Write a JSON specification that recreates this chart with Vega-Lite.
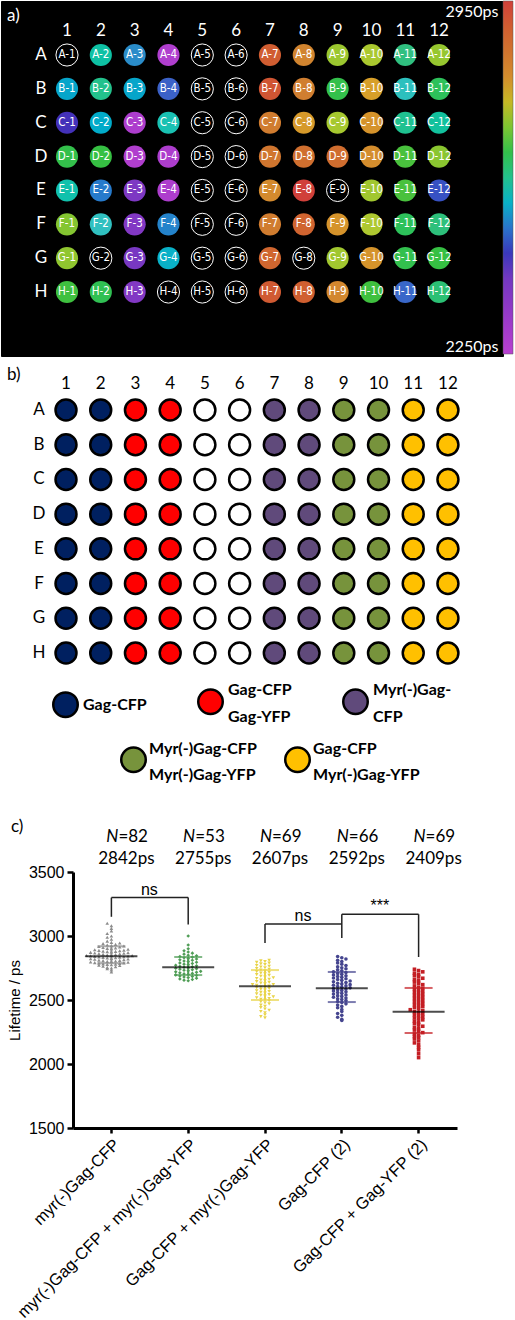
{
"$schema": "https://vega.github.io/schema/vega-lite/v6.json",
"padding": 0,
"background": "white",
"spacing": 0,
"bounds": "flush",
"datasets": {
"plate": [
{"well":"A-1","row":"A","rowIndex":1,"col":1,"construct":"Gag-CFP","lifetime":null},
{"well":"A-2","row":"A","rowIndex":1,"col":2,"construct":"Gag-CFP","lifetime":2585},
{"well":"A-3","row":"A","rowIndex":1,"col":3,"construct":"Gag-CFP + Gag-YFP","lifetime":2520},
{"well":"A-4","row":"A","rowIndex":1,"col":4,"construct":"Gag-CFP + Gag-YFP","lifetime":2270},
{"well":"A-5","row":"A","rowIndex":1,"col":5,"construct":"empty","lifetime":null},
{"well":"A-6","row":"A","rowIndex":1,"col":6,"construct":"empty","lifetime":null},
{"well":"A-7","row":"A","rowIndex":1,"col":7,"construct":"Myr(-)Gag-CFP","lifetime":2900},
{"well":"A-8","row":"A","rowIndex":1,"col":8,"construct":"Myr(-)Gag-CFP","lifetime":2815},
{"well":"A-9","row":"A","rowIndex":1,"col":9,"construct":"Myr(-)Gag-CFP + Myr(-)Gag-YFP","lifetime":2725},
{"well":"A-10","row":"A","rowIndex":1,"col":10,"construct":"Myr(-)Gag-CFP + Myr(-)Gag-YFP","lifetime":2738},
{"well":"A-11","row":"A","rowIndex":1,"col":11,"construct":"Gag-CFP + Myr(-)Gag-YFP","lifetime":2607},
{"well":"A-12","row":"A","rowIndex":1,"col":12,"construct":"Gag-CFP + Myr(-)Gag-YFP","lifetime":2720},
{"well":"B-1","row":"B","rowIndex":2,"col":1,"construct":"Gag-CFP","lifetime":2540},
{"well":"B-2","row":"B","rowIndex":2,"col":2,"construct":"Gag-CFP","lifetime":2600},
{"well":"B-3","row":"B","rowIndex":2,"col":3,"construct":"Gag-CFP + Gag-YFP","lifetime":2540},
{"well":"B-4","row":"B","rowIndex":2,"col":4,"construct":"Gag-CFP + Gag-YFP","lifetime":2485},
{"well":"B-5","row":"B","rowIndex":2,"col":5,"construct":"empty","lifetime":null},
{"well":"B-6","row":"B","rowIndex":2,"col":6,"construct":"empty","lifetime":null},
{"well":"B-7","row":"B","rowIndex":2,"col":7,"construct":"Myr(-)Gag-CFP","lifetime":2915},
{"well":"B-8","row":"B","rowIndex":2,"col":8,"construct":"Myr(-)Gag-CFP","lifetime":2825},
{"well":"B-9","row":"B","rowIndex":2,"col":9,"construct":"Myr(-)Gag-CFP + Myr(-)Gag-YFP","lifetime":2650},
{"well":"B-10","row":"B","rowIndex":2,"col":10,"construct":"Myr(-)Gag-CFP + Myr(-)Gag-YFP","lifetime":2770},
{"well":"B-11","row":"B","rowIndex":2,"col":11,"construct":"Gag-CFP + Myr(-)Gag-YFP","lifetime":2565},
{"well":"B-12","row":"B","rowIndex":2,"col":12,"construct":"Gag-CFP + Myr(-)Gag-YFP","lifetime":2640},
{"well":"C-1","row":"C","rowIndex":3,"col":1,"construct":"Gag-CFP","lifetime":2440},
{"well":"C-2","row":"C","rowIndex":3,"col":2,"construct":"Gag-CFP","lifetime":2545},
{"well":"C-3","row":"C","rowIndex":3,"col":3,"construct":"Gag-CFP + Gag-YFP","lifetime":2275},
{"well":"C-4","row":"C","rowIndex":3,"col":4,"construct":"Gag-CFP + Gag-YFP","lifetime":2575},
{"well":"C-5","row":"C","rowIndex":3,"col":5,"construct":"empty","lifetime":null},
{"well":"C-6","row":"C","rowIndex":3,"col":6,"construct":"empty","lifetime":null},
{"well":"C-7","row":"C","rowIndex":3,"col":7,"construct":"Myr(-)Gag-CFP","lifetime":2830},
{"well":"C-8","row":"C","rowIndex":3,"col":8,"construct":"Myr(-)Gag-CFP","lifetime":2780},
{"well":"C-9","row":"C","rowIndex":3,"col":9,"construct":"Myr(-)Gag-CFP + Myr(-)Gag-YFP","lifetime":2735},
{"well":"C-10","row":"C","rowIndex":3,"col":10,"construct":"Myr(-)Gag-CFP + Myr(-)Gag-YFP","lifetime":2790},
{"well":"C-11","row":"C","rowIndex":3,"col":11,"construct":"Gag-CFP + Myr(-)Gag-YFP","lifetime":2598},
{"well":"C-12","row":"C","rowIndex":3,"col":12,"construct":"Gag-CFP + Myr(-)Gag-YFP","lifetime":2590},
{"well":"D-1","row":"D","rowIndex":4,"col":1,"construct":"Gag-CFP","lifetime":2650},
{"well":"D-2","row":"D","rowIndex":4,"col":2,"construct":"Gag-CFP","lifetime":2655},
{"well":"D-3","row":"D","rowIndex":4,"col":3,"construct":"Gag-CFP + Gag-YFP","lifetime":2270},
{"well":"D-4","row":"D","rowIndex":4,"col":4,"construct":"Gag-CFP + Gag-YFP","lifetime":2275},
{"well":"D-5","row":"D","rowIndex":4,"col":5,"construct":"empty","lifetime":null},
{"well":"D-6","row":"D","rowIndex":4,"col":6,"construct":"empty","lifetime":null},
{"well":"D-7","row":"D","rowIndex":4,"col":7,"construct":"Myr(-)Gag-CFP","lifetime":2845},
{"well":"D-8","row":"D","rowIndex":4,"col":8,"construct":"Myr(-)Gag-CFP","lifetime":2860},
{"well":"D-9","row":"D","rowIndex":4,"col":9,"construct":"Myr(-)Gag-CFP + Myr(-)Gag-YFP","lifetime":2865},
{"well":"D-10","row":"D","rowIndex":4,"col":10,"construct":"Myr(-)Gag-CFP + Myr(-)Gag-YFP","lifetime":2800},
{"well":"D-11","row":"D","rowIndex":4,"col":11,"construct":"Gag-CFP + Myr(-)Gag-YFP","lifetime":2665},
{"well":"D-12","row":"D","rowIndex":4,"col":12,"construct":"Gag-CFP + Myr(-)Gag-YFP","lifetime":2710},
{"well":"E-1","row":"E","rowIndex":5,"col":1,"construct":"Gag-CFP","lifetime":2580},
{"well":"E-2","row":"E","rowIndex":5,"col":2,"construct":"Gag-CFP","lifetime":2505},
{"well":"E-3","row":"E","rowIndex":5,"col":3,"construct":"Gag-CFP + Gag-YFP","lifetime":2380},
{"well":"E-4","row":"E","rowIndex":5,"col":4,"construct":"Gag-CFP + Gag-YFP","lifetime":2275},
{"well":"E-5","row":"E","rowIndex":5,"col":5,"construct":"empty","lifetime":null},
{"well":"E-6","row":"E","rowIndex":5,"col":6,"construct":"empty","lifetime":null},
{"well":"E-7","row":"E","rowIndex":5,"col":7,"construct":"Myr(-)Gag-CFP","lifetime":2805},
{"well":"E-8","row":"E","rowIndex":5,"col":8,"construct":"Myr(-)Gag-CFP","lifetime":2950},
{"well":"E-9","row":"E","rowIndex":5,"col":9,"construct":"Myr(-)Gag-CFP + Myr(-)Gag-YFP","lifetime":null},
{"well":"E-10","row":"E","rowIndex":5,"col":10,"construct":"Myr(-)Gag-CFP + Myr(-)Gag-YFP","lifetime":2730},
{"well":"E-11","row":"E","rowIndex":5,"col":11,"construct":"Gag-CFP + Myr(-)Gag-YFP","lifetime":2665},
{"well":"E-12","row":"E","rowIndex":5,"col":12,"construct":"Gag-CFP + Myr(-)Gag-YFP","lifetime":2470},
{"well":"F-1","row":"F","rowIndex":6,"col":1,"construct":"Gag-CFP","lifetime":2705},
{"well":"F-2","row":"F","rowIndex":6,"col":2,"construct":"Gag-CFP","lifetime":2563},
{"well":"F-3","row":"F","rowIndex":6,"col":3,"construct":"Gag-CFP + Gag-YFP","lifetime":2370},
{"well":"F-4","row":"F","rowIndex":6,"col":4,"construct":"Gag-CFP + Gag-YFP","lifetime":2512},
{"well":"F-5","row":"F","rowIndex":6,"col":5,"construct":"empty","lifetime":null},
{"well":"F-6","row":"F","rowIndex":6,"col":6,"construct":"empty","lifetime":null},
{"well":"F-7","row":"F","rowIndex":6,"col":7,"construct":"Myr(-)Gag-CFP","lifetime":2830},
{"well":"F-8","row":"F","rowIndex":6,"col":8,"construct":"Myr(-)Gag-CFP","lifetime":2885},
{"well":"F-9","row":"F","rowIndex":6,"col":9,"construct":"Myr(-)Gag-CFP + Myr(-)Gag-YFP","lifetime":2790},
{"well":"F-10","row":"F","rowIndex":6,"col":10,"construct":"Myr(-)Gag-CFP + Myr(-)Gag-YFP","lifetime":2742},
{"well":"F-11","row":"F","rowIndex":6,"col":11,"construct":"Gag-CFP + Myr(-)Gag-YFP","lifetime":2640},
{"well":"F-12","row":"F","rowIndex":6,"col":12,"construct":"Gag-CFP + Myr(-)Gag-YFP","lifetime":2612},
{"well":"G-1","row":"G","rowIndex":7,"col":1,"construct":"Gag-CFP","lifetime":2715},
{"well":"G-2","row":"G","rowIndex":7,"col":2,"construct":"Gag-CFP","lifetime":null},
{"well":"G-3","row":"G","rowIndex":7,"col":3,"construct":"Gag-CFP + Gag-YFP","lifetime":2390},
{"well":"G-4","row":"G","rowIndex":7,"col":4,"construct":"Gag-CFP + Gag-YFP","lifetime":2550},
{"well":"G-5","row":"G","rowIndex":7,"col":5,"construct":"empty","lifetime":null},
{"well":"G-6","row":"G","rowIndex":7,"col":6,"construct":"empty","lifetime":null},
{"well":"G-7","row":"G","rowIndex":7,"col":7,"construct":"Myr(-)Gag-CFP","lifetime":2880},
{"well":"G-8","row":"G","rowIndex":7,"col":8,"construct":"Myr(-)Gag-CFP","lifetime":null},
{"well":"G-9","row":"G","rowIndex":7,"col":9,"construct":"Myr(-)Gag-CFP + Myr(-)Gag-YFP","lifetime":2730},
{"well":"G-10","row":"G","rowIndex":7,"col":10,"construct":"Myr(-)Gag-CFP + Myr(-)Gag-YFP","lifetime":2790},
{"well":"G-11","row":"G","rowIndex":7,"col":11,"construct":"Gag-CFP + Myr(-)Gag-YFP","lifetime":2648},
{"well":"G-12","row":"G","rowIndex":7,"col":12,"construct":"Gag-CFP + Myr(-)Gag-YFP","lifetime":2655},
{"well":"H-1","row":"H","rowIndex":8,"col":1,"construct":"Gag-CFP","lifetime":2660},
{"well":"H-2","row":"H","rowIndex":8,"col":2,"construct":"Gag-CFP","lifetime":2645},
{"well":"H-3","row":"H","rowIndex":8,"col":3,"construct":"Gag-CFP + Gag-YFP","lifetime":2370},
{"well":"H-4","row":"H","rowIndex":8,"col":4,"construct":"Gag-CFP + Gag-YFP","lifetime":null},
{"well":"H-5","row":"H","rowIndex":8,"col":5,"construct":"empty","lifetime":null},
{"well":"H-6","row":"H","rowIndex":8,"col":6,"construct":"empty","lifetime":null},
{"well":"H-7","row":"H","rowIndex":8,"col":7,"construct":"Myr(-)Gag-CFP","lifetime":2905},
{"well":"H-8","row":"H","rowIndex":8,"col":8,"construct":"Myr(-)Gag-CFP","lifetime":2895},
{"well":"H-9","row":"H","rowIndex":8,"col":9,"construct":"Myr(-)Gag-CFP + Myr(-)Gag-YFP","lifetime":2810},
{"well":"H-10","row":"H","rowIndex":8,"col":10,"construct":"Myr(-)Gag-CFP + Myr(-)Gag-YFP","lifetime":2660},
{"well":"H-11","row":"H","rowIndex":8,"col":11,"construct":"Gag-CFP + Myr(-)Gag-YFP","lifetime":2490},
{"well":"H-12","row":"H","rowIndex":8,"col":12,"construct":"Gag-CFP + Myr(-)Gag-YFP","lifetime":2618}
],
"points": [
{"group":"myr(-)Gag-CFP","lifetime":2720},{"group":"myr(-)Gag-CFP","lifetime":2735},{"group":"myr(-)Gag-CFP","lifetime":2745},{"group":"myr(-)Gag-CFP","lifetime":2750},{"group":"myr(-)Gag-CFP","lifetime":2755},{"group":"myr(-)Gag-CFP","lifetime":2760},{"group":"myr(-)Gag-CFP","lifetime":2765},{"group":"myr(-)Gag-CFP","lifetime":2770},{"group":"myr(-)Gag-CFP","lifetime":2772},{"group":"myr(-)Gag-CFP","lifetime":2775},
{"group":"myr(-)Gag-CFP","lifetime":2778},{"group":"myr(-)Gag-CFP","lifetime":2780},{"group":"myr(-)Gag-CFP","lifetime":2782},{"group":"myr(-)Gag-CFP","lifetime":2785},{"group":"myr(-)Gag-CFP","lifetime":2787},{"group":"myr(-)Gag-CFP","lifetime":2790},{"group":"myr(-)Gag-CFP","lifetime":2792},{"group":"myr(-)Gag-CFP","lifetime":2795},{"group":"myr(-)Gag-CFP","lifetime":2797},{"group":"myr(-)Gag-CFP","lifetime":2800},
{"group":"myr(-)Gag-CFP","lifetime":2802},{"group":"myr(-)Gag-CFP","lifetime":2805},{"group":"myr(-)Gag-CFP","lifetime":2808},{"group":"myr(-)Gag-CFP","lifetime":2810},{"group":"myr(-)Gag-CFP","lifetime":2812},{"group":"myr(-)Gag-CFP","lifetime":2815},{"group":"myr(-)Gag-CFP","lifetime":2818},{"group":"myr(-)Gag-CFP","lifetime":2820},{"group":"myr(-)Gag-CFP","lifetime":2822},{"group":"myr(-)Gag-CFP","lifetime":2825},
{"group":"myr(-)Gag-CFP","lifetime":2828},{"group":"myr(-)Gag-CFP","lifetime":2830},{"group":"myr(-)Gag-CFP","lifetime":2832},{"group":"myr(-)Gag-CFP","lifetime":2835},{"group":"myr(-)Gag-CFP","lifetime":2838},{"group":"myr(-)Gag-CFP","lifetime":2840},{"group":"myr(-)Gag-CFP","lifetime":2842},{"group":"myr(-)Gag-CFP","lifetime":2845},{"group":"myr(-)Gag-CFP","lifetime":2847},{"group":"myr(-)Gag-CFP","lifetime":2850},
{"group":"myr(-)Gag-CFP","lifetime":2852},{"group":"myr(-)Gag-CFP","lifetime":2855},{"group":"myr(-)Gag-CFP","lifetime":2857},{"group":"myr(-)Gag-CFP","lifetime":2860},{"group":"myr(-)Gag-CFP","lifetime":2862},{"group":"myr(-)Gag-CFP","lifetime":2865},{"group":"myr(-)Gag-CFP","lifetime":2867},{"group":"myr(-)Gag-CFP","lifetime":2870},{"group":"myr(-)Gag-CFP","lifetime":2872},{"group":"myr(-)Gag-CFP","lifetime":2875},
{"group":"myr(-)Gag-CFP","lifetime":2878},{"group":"myr(-)Gag-CFP","lifetime":2880},{"group":"myr(-)Gag-CFP","lifetime":2882},{"group":"myr(-)Gag-CFP","lifetime":2885},{"group":"myr(-)Gag-CFP","lifetime":2888},{"group":"myr(-)Gag-CFP","lifetime":2890},{"group":"myr(-)Gag-CFP","lifetime":2893},{"group":"myr(-)Gag-CFP","lifetime":2896},{"group":"myr(-)Gag-CFP","lifetime":2900},{"group":"myr(-)Gag-CFP","lifetime":2903},
{"group":"myr(-)Gag-CFP","lifetime":2906},{"group":"myr(-)Gag-CFP","lifetime":2910},{"group":"myr(-)Gag-CFP","lifetime":2914},{"group":"myr(-)Gag-CFP","lifetime":2918},{"group":"myr(-)Gag-CFP","lifetime":2922},{"group":"myr(-)Gag-CFP","lifetime":2926},{"group":"myr(-)Gag-CFP","lifetime":2930},{"group":"myr(-)Gag-CFP","lifetime":2935},{"group":"myr(-)Gag-CFP","lifetime":2940},{"group":"myr(-)Gag-CFP","lifetime":2945},
{"group":"myr(-)Gag-CFP","lifetime":2950},{"group":"myr(-)Gag-CFP","lifetime":2960},{"group":"myr(-)Gag-CFP","lifetime":2975},{"group":"myr(-)Gag-CFP","lifetime":2990},{"group":"myr(-)Gag-CFP","lifetime":3000},{"group":"myr(-)Gag-CFP","lifetime":3020},{"group":"myr(-)Gag-CFP","lifetime":3040},{"group":"myr(-)Gag-CFP","lifetime":3060},{"group":"myr(-)Gag-CFP","lifetime":3080},{"group":"myr(-)Gag-CFP","lifetime":3100},
{"group":"myr(-)Gag-CFP","lifetime":2848},{"group":"myr(-)Gag-CFP","lifetime":2836},
{"group":"myr(-)Gag-CFP + myr(-)Gag-YFP","lifetime":2650},{"group":"myr(-)Gag-CFP + myr(-)Gag-YFP","lifetime":2655},{"group":"myr(-)Gag-CFP + myr(-)Gag-YFP","lifetime":2660},{"group":"myr(-)Gag-CFP + myr(-)Gag-YFP","lifetime":2665},{"group":"myr(-)Gag-CFP + myr(-)Gag-YFP","lifetime":2670},{"group":"myr(-)Gag-CFP + myr(-)Gag-YFP","lifetime":2675},{"group":"myr(-)Gag-CFP + myr(-)Gag-YFP","lifetime":2680},{"group":"myr(-)Gag-CFP + myr(-)Gag-YFP","lifetime":2684},{"group":"myr(-)Gag-CFP + myr(-)Gag-YFP","lifetime":2688},{"group":"myr(-)Gag-CFP + myr(-)Gag-YFP","lifetime":2692},
{"group":"myr(-)Gag-CFP + myr(-)Gag-YFP","lifetime":2696},{"group":"myr(-)Gag-CFP + myr(-)Gag-YFP","lifetime":2700},{"group":"myr(-)Gag-CFP + myr(-)Gag-YFP","lifetime":2704},{"group":"myr(-)Gag-CFP + myr(-)Gag-YFP","lifetime":2708},{"group":"myr(-)Gag-CFP + myr(-)Gag-YFP","lifetime":2712},{"group":"myr(-)Gag-CFP + myr(-)Gag-YFP","lifetime":2716},{"group":"myr(-)Gag-CFP + myr(-)Gag-YFP","lifetime":2720},{"group":"myr(-)Gag-CFP + myr(-)Gag-YFP","lifetime":2724},{"group":"myr(-)Gag-CFP + myr(-)Gag-YFP","lifetime":2728},{"group":"myr(-)Gag-CFP + myr(-)Gag-YFP","lifetime":2732},
{"group":"myr(-)Gag-CFP + myr(-)Gag-YFP","lifetime":2736},{"group":"myr(-)Gag-CFP + myr(-)Gag-YFP","lifetime":2740},{"group":"myr(-)Gag-CFP + myr(-)Gag-YFP","lifetime":2744},{"group":"myr(-)Gag-CFP + myr(-)Gag-YFP","lifetime":2748},{"group":"myr(-)Gag-CFP + myr(-)Gag-YFP","lifetime":2752},{"group":"myr(-)Gag-CFP + myr(-)Gag-YFP","lifetime":2756},{"group":"myr(-)Gag-CFP + myr(-)Gag-YFP","lifetime":2760},{"group":"myr(-)Gag-CFP + myr(-)Gag-YFP","lifetime":2764},{"group":"myr(-)Gag-CFP + myr(-)Gag-YFP","lifetime":2768},{"group":"myr(-)Gag-CFP + myr(-)Gag-YFP","lifetime":2772},
{"group":"myr(-)Gag-CFP + myr(-)Gag-YFP","lifetime":2776},{"group":"myr(-)Gag-CFP + myr(-)Gag-YFP","lifetime":2780},{"group":"myr(-)Gag-CFP + myr(-)Gag-YFP","lifetime":2785},{"group":"myr(-)Gag-CFP + myr(-)Gag-YFP","lifetime":2790},{"group":"myr(-)Gag-CFP + myr(-)Gag-YFP","lifetime":2795},{"group":"myr(-)Gag-CFP + myr(-)Gag-YFP","lifetime":2800},{"group":"myr(-)Gag-CFP + myr(-)Gag-YFP","lifetime":2805},{"group":"myr(-)Gag-CFP + myr(-)Gag-YFP","lifetime":2810},{"group":"myr(-)Gag-CFP + myr(-)Gag-YFP","lifetime":2815},{"group":"myr(-)Gag-CFP + myr(-)Gag-YFP","lifetime":2820},
{"group":"myr(-)Gag-CFP + myr(-)Gag-YFP","lifetime":2825},{"group":"myr(-)Gag-CFP + myr(-)Gag-YFP","lifetime":2830},{"group":"myr(-)Gag-CFP + myr(-)Gag-YFP","lifetime":2835},{"group":"myr(-)Gag-CFP + myr(-)Gag-YFP","lifetime":2840},{"group":"myr(-)Gag-CFP + myr(-)Gag-YFP","lifetime":2845},{"group":"myr(-)Gag-CFP + myr(-)Gag-YFP","lifetime":2850},{"group":"myr(-)Gag-CFP + myr(-)Gag-YFP","lifetime":2858},{"group":"myr(-)Gag-CFP + myr(-)Gag-YFP","lifetime":2866},{"group":"myr(-)Gag-CFP + myr(-)Gag-YFP","lifetime":2875},{"group":"myr(-)Gag-CFP + myr(-)Gag-YFP","lifetime":2885},
{"group":"myr(-)Gag-CFP + myr(-)Gag-YFP","lifetime":2900},{"group":"myr(-)Gag-CFP + myr(-)Gag-YFP","lifetime":2930},{"group":"myr(-)Gag-CFP + myr(-)Gag-YFP","lifetime":3000},
{"group":"Gag-CFP + myr(-)Gag-YFP","lifetime":2360},{"group":"Gag-CFP + myr(-)Gag-YFP","lifetime":2370},{"group":"Gag-CFP + myr(-)Gag-YFP","lifetime":2385},{"group":"Gag-CFP + myr(-)Gag-YFP","lifetime":2400},{"group":"Gag-CFP + myr(-)Gag-YFP","lifetime":2410},{"group":"Gag-CFP + myr(-)Gag-YFP","lifetime":2420},{"group":"Gag-CFP + myr(-)Gag-YFP","lifetime":2430},{"group":"Gag-CFP + myr(-)Gag-YFP","lifetime":2440},{"group":"Gag-CFP + myr(-)Gag-YFP","lifetime":2450},{"group":"Gag-CFP + myr(-)Gag-YFP","lifetime":2460},
{"group":"Gag-CFP + myr(-)Gag-YFP","lifetime":2470},{"group":"Gag-CFP + myr(-)Gag-YFP","lifetime":2478},{"group":"Gag-CFP + myr(-)Gag-YFP","lifetime":2486},{"group":"Gag-CFP + myr(-)Gag-YFP","lifetime":2494},{"group":"Gag-CFP + myr(-)Gag-YFP","lifetime":2500},{"group":"Gag-CFP + myr(-)Gag-YFP","lifetime":2506},{"group":"Gag-CFP + myr(-)Gag-YFP","lifetime":2512},{"group":"Gag-CFP + myr(-)Gag-YFP","lifetime":2518},{"group":"Gag-CFP + myr(-)Gag-YFP","lifetime":2524},{"group":"Gag-CFP + myr(-)Gag-YFP","lifetime":2530},
{"group":"Gag-CFP + myr(-)Gag-YFP","lifetime":2536},{"group":"Gag-CFP + myr(-)Gag-YFP","lifetime":2542},{"group":"Gag-CFP + myr(-)Gag-YFP","lifetime":2548},{"group":"Gag-CFP + myr(-)Gag-YFP","lifetime":2554},{"group":"Gag-CFP + myr(-)Gag-YFP","lifetime":2560},{"group":"Gag-CFP + myr(-)Gag-YFP","lifetime":2566},{"group":"Gag-CFP + myr(-)Gag-YFP","lifetime":2572},{"group":"Gag-CFP + myr(-)Gag-YFP","lifetime":2578},{"group":"Gag-CFP + myr(-)Gag-YFP","lifetime":2584},{"group":"Gag-CFP + myr(-)Gag-YFP","lifetime":2590},
{"group":"Gag-CFP + myr(-)Gag-YFP","lifetime":2596},{"group":"Gag-CFP + myr(-)Gag-YFP","lifetime":2602},{"group":"Gag-CFP + myr(-)Gag-YFP","lifetime":2608},{"group":"Gag-CFP + myr(-)Gag-YFP","lifetime":2614},{"group":"Gag-CFP + myr(-)Gag-YFP","lifetime":2620},{"group":"Gag-CFP + myr(-)Gag-YFP","lifetime":2626},{"group":"Gag-CFP + myr(-)Gag-YFP","lifetime":2632},{"group":"Gag-CFP + myr(-)Gag-YFP","lifetime":2638},{"group":"Gag-CFP + myr(-)Gag-YFP","lifetime":2644},{"group":"Gag-CFP + myr(-)Gag-YFP","lifetime":2650},
{"group":"Gag-CFP + myr(-)Gag-YFP","lifetime":2656},{"group":"Gag-CFP + myr(-)Gag-YFP","lifetime":2662},{"group":"Gag-CFP + myr(-)Gag-YFP","lifetime":2668},{"group":"Gag-CFP + myr(-)Gag-YFP","lifetime":2674},{"group":"Gag-CFP + myr(-)Gag-YFP","lifetime":2680},{"group":"Gag-CFP + myr(-)Gag-YFP","lifetime":2686},{"group":"Gag-CFP + myr(-)Gag-YFP","lifetime":2692},{"group":"Gag-CFP + myr(-)Gag-YFP","lifetime":2698},{"group":"Gag-CFP + myr(-)Gag-YFP","lifetime":2704},{"group":"Gag-CFP + myr(-)Gag-YFP","lifetime":2710},
{"group":"Gag-CFP + myr(-)Gag-YFP","lifetime":2716},{"group":"Gag-CFP + myr(-)Gag-YFP","lifetime":2722},{"group":"Gag-CFP + myr(-)Gag-YFP","lifetime":2728},{"group":"Gag-CFP + myr(-)Gag-YFP","lifetime":2734},{"group":"Gag-CFP + myr(-)Gag-YFP","lifetime":2740},{"group":"Gag-CFP + myr(-)Gag-YFP","lifetime":2746},{"group":"Gag-CFP + myr(-)Gag-YFP","lifetime":2752},{"group":"Gag-CFP + myr(-)Gag-YFP","lifetime":2758},{"group":"Gag-CFP + myr(-)Gag-YFP","lifetime":2764},{"group":"Gag-CFP + myr(-)Gag-YFP","lifetime":2770},
{"group":"Gag-CFP + myr(-)Gag-YFP","lifetime":2776},{"group":"Gag-CFP + myr(-)Gag-YFP","lifetime":2782},{"group":"Gag-CFP + myr(-)Gag-YFP","lifetime":2788},{"group":"Gag-CFP + myr(-)Gag-YFP","lifetime":2794},{"group":"Gag-CFP + myr(-)Gag-YFP","lifetime":2800},{"group":"Gag-CFP + myr(-)Gag-YFP","lifetime":2806},{"group":"Gag-CFP + myr(-)Gag-YFP","lifetime":2810},{"group":"Gag-CFP + myr(-)Gag-YFP","lifetime":2620},{"group":"Gag-CFP + myr(-)Gag-YFP","lifetime":2600},
{"group":"Gag-CFP (2)","lifetime":2340},{"group":"Gag-CFP (2)","lifetime":2350},{"group":"Gag-CFP (2)","lifetime":2365},{"group":"Gag-CFP (2)","lifetime":2380},{"group":"Gag-CFP (2)","lifetime":2395},{"group":"Gag-CFP (2)","lifetime":2410},{"group":"Gag-CFP (2)","lifetime":2425},{"group":"Gag-CFP (2)","lifetime":2440},{"group":"Gag-CFP (2)","lifetime":2450},{"group":"Gag-CFP (2)","lifetime":2460},
{"group":"Gag-CFP (2)","lifetime":2470},{"group":"Gag-CFP (2)","lifetime":2480},{"group":"Gag-CFP (2)","lifetime":2488},{"group":"Gag-CFP (2)","lifetime":2496},{"group":"Gag-CFP (2)","lifetime":2504},{"group":"Gag-CFP (2)","lifetime":2510},{"group":"Gag-CFP (2)","lifetime":2516},{"group":"Gag-CFP (2)","lifetime":2522},{"group":"Gag-CFP (2)","lifetime":2528},{"group":"Gag-CFP (2)","lifetime":2534},
{"group":"Gag-CFP (2)","lifetime":2540},{"group":"Gag-CFP (2)","lifetime":2546},{"group":"Gag-CFP (2)","lifetime":2552},{"group":"Gag-CFP (2)","lifetime":2558},{"group":"Gag-CFP (2)","lifetime":2564},{"group":"Gag-CFP (2)","lifetime":2570},{"group":"Gag-CFP (2)","lifetime":2575},{"group":"Gag-CFP (2)","lifetime":2580},{"group":"Gag-CFP (2)","lifetime":2585},{"group":"Gag-CFP (2)","lifetime":2590},
{"group":"Gag-CFP (2)","lifetime":2595},{"group":"Gag-CFP (2)","lifetime":2600},{"group":"Gag-CFP (2)","lifetime":2605},{"group":"Gag-CFP (2)","lifetime":2610},{"group":"Gag-CFP (2)","lifetime":2615},{"group":"Gag-CFP (2)","lifetime":2620},{"group":"Gag-CFP (2)","lifetime":2625},{"group":"Gag-CFP (2)","lifetime":2630},{"group":"Gag-CFP (2)","lifetime":2636},{"group":"Gag-CFP (2)","lifetime":2642},
{"group":"Gag-CFP (2)","lifetime":2648},{"group":"Gag-CFP (2)","lifetime":2654},{"group":"Gag-CFP (2)","lifetime":2660},{"group":"Gag-CFP (2)","lifetime":2666},{"group":"Gag-CFP (2)","lifetime":2672},{"group":"Gag-CFP (2)","lifetime":2678},{"group":"Gag-CFP (2)","lifetime":2684},{"group":"Gag-CFP (2)","lifetime":2690},{"group":"Gag-CFP (2)","lifetime":2696},{"group":"Gag-CFP (2)","lifetime":2702},
{"group":"Gag-CFP (2)","lifetime":2708},{"group":"Gag-CFP (2)","lifetime":2714},{"group":"Gag-CFP (2)","lifetime":2720},{"group":"Gag-CFP (2)","lifetime":2728},{"group":"Gag-CFP (2)","lifetime":2736},{"group":"Gag-CFP (2)","lifetime":2744},{"group":"Gag-CFP (2)","lifetime":2752},{"group":"Gag-CFP (2)","lifetime":2760},{"group":"Gag-CFP (2)","lifetime":2770},{"group":"Gag-CFP (2)","lifetime":2780},
{"group":"Gag-CFP (2)","lifetime":2790},{"group":"Gag-CFP (2)","lifetime":2800},{"group":"Gag-CFP (2)","lifetime":2810},{"group":"Gag-CFP (2)","lifetime":2820},{"group":"Gag-CFP (2)","lifetime":2830},{"group":"Gag-CFP (2)","lifetime":2840},
{"group":"Gag-CFP + Gag-YFP (2)","lifetime":2050},{"group":"Gag-CFP + Gag-YFP (2)","lifetime":2080},{"group":"Gag-CFP + Gag-YFP (2)","lifetime":2110},{"group":"Gag-CFP + Gag-YFP (2)","lifetime":2130},{"group":"Gag-CFP + Gag-YFP (2)","lifetime":2150},{"group":"Gag-CFP + Gag-YFP (2)","lifetime":2165},{"group":"Gag-CFP + Gag-YFP (2)","lifetime":2180},{"group":"Gag-CFP + Gag-YFP (2)","lifetime":2195},{"group":"Gag-CFP + Gag-YFP (2)","lifetime":2205},{"group":"Gag-CFP + Gag-YFP (2)","lifetime":2215},
{"group":"Gag-CFP + Gag-YFP (2)","lifetime":2225},{"group":"Gag-CFP + Gag-YFP (2)","lifetime":2235},{"group":"Gag-CFP + Gag-YFP (2)","lifetime":2245},{"group":"Gag-CFP + Gag-YFP (2)","lifetime":2255},{"group":"Gag-CFP + Gag-YFP (2)","lifetime":2265},{"group":"Gag-CFP + Gag-YFP (2)","lifetime":2275},{"group":"Gag-CFP + Gag-YFP (2)","lifetime":2285},{"group":"Gag-CFP + Gag-YFP (2)","lifetime":2295},{"group":"Gag-CFP + Gag-YFP (2)","lifetime":2305},{"group":"Gag-CFP + Gag-YFP (2)","lifetime":2315},
{"group":"Gag-CFP + Gag-YFP (2)","lifetime":2325},{"group":"Gag-CFP + Gag-YFP (2)","lifetime":2335},{"group":"Gag-CFP + Gag-YFP (2)","lifetime":2345},{"group":"Gag-CFP + Gag-YFP (2)","lifetime":2352},{"group":"Gag-CFP + Gag-YFP (2)","lifetime":2360},{"group":"Gag-CFP + Gag-YFP (2)","lifetime":2368},{"group":"Gag-CFP + Gag-YFP (2)","lifetime":2376},{"group":"Gag-CFP + Gag-YFP (2)","lifetime":2384},{"group":"Gag-CFP + Gag-YFP (2)","lifetime":2392},{"group":"Gag-CFP + Gag-YFP (2)","lifetime":2400},
{"group":"Gag-CFP + Gag-YFP (2)","lifetime":2408},{"group":"Gag-CFP + Gag-YFP (2)","lifetime":2416},{"group":"Gag-CFP + Gag-YFP (2)","lifetime":2424},{"group":"Gag-CFP + Gag-YFP (2)","lifetime":2432},{"group":"Gag-CFP + Gag-YFP (2)","lifetime":2440},{"group":"Gag-CFP + Gag-YFP (2)","lifetime":2448},{"group":"Gag-CFP + Gag-YFP (2)","lifetime":2456},{"group":"Gag-CFP + Gag-YFP (2)","lifetime":2464},{"group":"Gag-CFP + Gag-YFP (2)","lifetime":2472},{"group":"Gag-CFP + Gag-YFP (2)","lifetime":2480},
{"group":"Gag-CFP + Gag-YFP (2)","lifetime":2488},{"group":"Gag-CFP + Gag-YFP (2)","lifetime":2496},{"group":"Gag-CFP + Gag-YFP (2)","lifetime":2504},{"group":"Gag-CFP + Gag-YFP (2)","lifetime":2512},{"group":"Gag-CFP + Gag-YFP (2)","lifetime":2520},{"group":"Gag-CFP + Gag-YFP (2)","lifetime":2528},{"group":"Gag-CFP + Gag-YFP (2)","lifetime":2536},{"group":"Gag-CFP + Gag-YFP (2)","lifetime":2544},{"group":"Gag-CFP + Gag-YFP (2)","lifetime":2552},{"group":"Gag-CFP + Gag-YFP (2)","lifetime":2560},
{"group":"Gag-CFP + Gag-YFP (2)","lifetime":2568},{"group":"Gag-CFP + Gag-YFP (2)","lifetime":2576},{"group":"Gag-CFP + Gag-YFP (2)","lifetime":2584},{"group":"Gag-CFP + Gag-YFP (2)","lifetime":2592},{"group":"Gag-CFP + Gag-YFP (2)","lifetime":2600},{"group":"Gag-CFP + Gag-YFP (2)","lifetime":2610},{"group":"Gag-CFP + Gag-YFP (2)","lifetime":2620},{"group":"Gag-CFP + Gag-YFP (2)","lifetime":2630},{"group":"Gag-CFP + Gag-YFP (2)","lifetime":2640},{"group":"Gag-CFP + Gag-YFP (2)","lifetime":2650},
{"group":"Gag-CFP + Gag-YFP (2)","lifetime":2660},{"group":"Gag-CFP + Gag-YFP (2)","lifetime":2670},{"group":"Gag-CFP + Gag-YFP (2)","lifetime":2680},{"group":"Gag-CFP + Gag-YFP (2)","lifetime":2690},{"group":"Gag-CFP + Gag-YFP (2)","lifetime":2700},{"group":"Gag-CFP + Gag-YFP (2)","lifetime":2710},{"group":"Gag-CFP + Gag-YFP (2)","lifetime":2720},{"group":"Gag-CFP + Gag-YFP (2)","lifetime":2730},{"group":"Gag-CFP + Gag-YFP (2)","lifetime":2740}
],
"summary": [
{"group":"myr(-)Gag-CFP","N":82,"mean":2842,"lo":2788,"hi":2920},
{"group":"myr(-)Gag-CFP + myr(-)Gag-YFP","N":53,"mean":2755,"lo":2695,"hi":2836},
{"group":"Gag-CFP + myr(-)Gag-YFP","N":69,"mean":2607,"lo":2500,"hi":2734},
{"group":"Gag-CFP (2)","N":66,"mean":2592,"lo":2484,"hi":2719},
{"group":"Gag-CFP + Gag-YFP (2)","N":69,"mean":2409,"lo":2242,"hi":2594}
],
"brackets": [
{"group":"myr(-)Gag-CFP","b":"myr(-)Gag-CFP + myr(-)Gag-YFP","y":3300,"ya":3150,"yb":3090,"label":"ns"},
{"group":"Gag-CFP + myr(-)Gag-YFP","b":"Gag-CFP (2)","y":3094,"ya":2945,"yb":2985,"label":"ns"},
{"group":"Gag-CFP (2)","b":"Gag-CFP + Gag-YFP (2)","y":3170,"ya":3094,"yb":2836,"label":"***"}
]
},
"vconcat": [
{
"width": 502,
"height": 355,
"view": {"fill": "black", "stroke": "black"},
"title": {"text": "a)", "anchor": "start", "frame": "group", "offset": -24, "dx": 6, "color": "white", "font": "Lato", "fontSize": 17, "fontWeight": "normal"},
"data": {"name": "plate"},
"encoding": {
"x": {"field": "col", "type": "quantitative", "scale": {"domain": [-0.951, 13.89], "nice": false, "zero": false}, "axis": null}
},
"layer": [
{"transform": [{"filter": "datum.lifetime != null"}],
"mark": {"type": "point", "shape": "circle", "filled": true, "size": 490, "opacity": 1, "strokeWidth": 0},
"encoding": {
"y": {"field": "rowIndex", "type": "quantitative", "scale": {"domain": [-0.595, 9.889], "nice": false, "zero": false, "reverse": true}, "axis": null},
"color": {"field": "lifetime", "type": "quantitative",
"scale": {"domain": [2250, 2325, 2405, 2444, 2488, 2524, 2563, 2607, 2657, 2744, 2756, 2821, 2894, 2950],
"range": ["#b840d0", "#9838c8", "#7038c0", "#3c30b8", "#3c64c8", "#3090c8", "#30c0c0", "#30c080", "#38c040", "#b0c830", "#d8a828", "#d08030", "#d06030", "#d0403a"]},
"legend": {"orient": "right", "offset": 0, "padding": 0, "title": null, "direction": "vertical", "gradientLength": 353, "gradientThickness": 10, "values": [2250, 2950], "labelExpr": "''", "labelOpacity": 0, "gradientStrokeColor": "#555", "gradientStrokeWidth": 0.5}}}},
{"transform": [{"filter": "datum.lifetime == null"}],
"mark": {"type": "point", "shape": "circle", "filled": false, "size": 490, "stroke": "white", "strokeWidth": 1, "opacity": 1},
"encoding": {"y": {"field": "rowIndex", "type": "quantitative", "scale": {"domain": [-0.595, 9.889], "nice": false, "zero": false, "reverse": true}, "axis": null}}},
{"mark": {"type": "text", "color": "white", "font": "Liberation Sans Narrow, DejaVu Sans Condensed, sans-serif", "fontSize": 11.5, "baseline": "middle", "align": "center"},
"encoding": {"text": {"field": "well"}, "y": {"field": "rowIndex", "type": "quantitative", "scale": {"domain": [-0.595, 9.889], "nice": false, "zero": false, "reverse": true}, "axis": null}}},
{"transform": [{"filter": "datum.rowIndex == 1"}],
"mark": {"type": "text", "color": "white", "font": "Lato", "fontSize": 17, "dy": -24, "baseline": "middle"},
"encoding": {"text": {"field": "col"}, "y": {"field": "rowIndex", "type": "quantitative", "scale": {"domain": [-0.595, 9.889], "nice": false, "zero": false, "reverse": true}, "axis": null}}},
{"transform": [{"filter": "datum.col == 1"}],
"mark": {"type": "text", "color": "white", "font": "Lato", "fontSize": 17, "dx": -26, "baseline": "middle"},
"encoding": {"text": {"field": "row"}, "y": {"field": "rowIndex", "type": "quantitative", "scale": {"domain": [-0.595, 9.889], "nice": false, "zero": false, "reverse": true}, "axis": null}}},
{"layer": [
{"transform": [{"filter": "datum.lifetime != null"}],
"mark": {"type": "tick", "opacity": 0},
"encoding": {"y": {"field": "lifetime", "type": "quantitative", "scale": {"domain": [2250, 2950], "range": [353, 2], "nice": false, "zero": false},
"axis": {"orient": "left", "offset": -497, "values": [2250, 2950], "labelExpr": "datum.value + 'ps'", "labelFlush": true, "domain": false, "ticks": false, "grid": false, "labelColor": "white", "labelFont": "Lato", "labelFontSize": 16, "labelPadding": 0, "title": null}}}}
]}
],
"resolve": {"scale": {"y": "independent"}, "axis": {"y": "independent"}}
},
{
"width": 515,
"height": 516,
"view": {"stroke": null},
"title": {"text": "b)", "anchor": "start", "frame": "group", "offset": -28, "dx": 6, "color": "black", "font": "Lato", "fontSize": 17, "fontWeight": "normal"},
"data": {"name": "plate"},
"encoding": {
"x": {"field": "col", "type": "quantitative", "scale": {"domain": [-0.872, 13.96], "nice": false, "zero": false}, "axis": null},
"y": {"field": "rowIndex", "type": "quantitative", "scale": {"domain": [-0.556, 14.31], "nice": false, "zero": false, "reverse": true}, "axis": null}
},
"layer": [
{"transform": [{"filter": "datum.col <= 8"}],
"mark": {"type": "point", "shape": "circle", "filled": true, "size": 440, "stroke": "black", "strokeWidth": 2.5, "opacity": 1},
"encoding": {"fill": {"field": "construct", "type": "nominal",
"scale": {"domain": ["Gag-CFP", "Gag-CFP + Gag-YFP", "Myr(-)Gag-CFP", "empty"], "range": ["#002060", "#ff0000", "#604a7b", "#ffffff"]},
"legend": {"orient": "none", "legendX": 51, "legendY": 332, "direction": "horizontal", "columns": 3, "title": null, "padding": 0,
"values": ["Gag-CFP", "Gag-CFP + Gag-YFP", "Myr(-)Gag-CFP"],
"symbolType": "circle", "symbolSize": 600, "symbolStrokeColor": "black", "symbolStrokeWidth": 2.5, "symbolOpacity": 1,
"labelFont": "Lato", "labelFontSize": 16, "labelFontWeight": "bold", "labelColor": "black", "labelLimit": 0, "labelOffset": 4,
"columnPadding": 31, "gridAlign": "all",
"labelExpr": "datum.label == 'Myr(-)Gag-CFP' ? ['Myr(-)Gag-', 'CFP'] : split(datum.label, ' + ')",
"encode": {"labels": {"update": {"lineHeight": {"value": 27}, "dy": {"signal": "datum.label == 'Gag-CFP' ? 0 : -12"}}}, "symbols": {"update": {"stroke": {"value": "black"}, "strokeWidth": {"value": 2.5}}}}}}}},
{"transform": [{"filter": "datum.col > 8"}],
"mark": {"type": "point", "shape": "circle", "filled": true, "size": 440, "stroke": "black", "strokeWidth": 2.5, "opacity": 1},
"encoding": {"color": {"field": "construct", "type": "nominal",
"scale": {"domain": ["Myr(-)Gag-CFP + Myr(-)Gag-YFP", "Gag-CFP + Myr(-)Gag-YFP"], "range": ["#77933c", "#ffc000"]},
"legend": {"orient": "none", "legendX": 119, "legendY": 390, "direction": "horizontal", "columns": 2, "title": null, "padding": 0,
"symbolType": "circle", "symbolSize": 600, "symbolStrokeColor": "black", "symbolStrokeWidth": 2.5, "symbolOpacity": 1,
"labelFont": "Lato", "labelFontSize": 16, "labelFontWeight": "bold", "labelColor": "black", "labelLimit": 0, "labelOffset": 2,
"columnPadding": 23, "gridAlign": "all",
"labelExpr": "split(datum.label, ' + ')",
"encode": {"labels": {"update": {"lineHeight": {"value": 26}, "dy": {"value": -11}}}, "symbols": {"update": {"stroke": {"value": "black"}, "strokeWidth": {"value": 2.5}}}}}}}},
{"transform": [{"filter": "datum.rowIndex == 1"}],
"mark": {"type": "text", "color": "black", "font": "Lato", "fontSize": 17, "dy": -26, "baseline": "middle"},
"encoding": {"text": {"field": "col"}}},
{"transform": [{"filter": "datum.col == 1"}],
"mark": {"type": "text", "color": "black", "font": "Lato", "fontSize": 17, "dx": -27, "baseline": "middle"},
"encoding": {"text": {"field": "row"}}}
]
},
{
"width": 515,
"height": 256,
"view": {"stroke": null},
"title": {"text": "c)", "anchor": "start", "frame": "group", "offset": -8, "dx": 10, "color": "black", "font": "Lato", "fontSize": 17, "fontWeight": "normal"},
"encoding": {
"x": {"field": "group", "type": "nominal", "title": null,
"scale": {"domain": ["myr(-)Gag-CFP", "myr(-)Gag-CFP + myr(-)Gag-YFP", "Gag-CFP + myr(-)Gag-YFP", "Gag-CFP (2)", "Gag-CFP + Gag-YFP (2)"], "range": [72, 456], "paddingInner": 0.35, "paddingOuter": 0.175},
"axis": {"labelAngle": -45, "labelFontSize": 16.5, "labelPadding": 3, "tickSize": 5, "labelLimit": 0}}
},
"layer": [
{"data": {"name": "points"},
"transform": [
{"bin": {"step": 25}, "field": "lifetime", "as": "lbin"},
{"window": [{"op": "row_number", "as": "slot"}], "groupby": ["group", "lbin"], "sort": [{"field": "lifetime"}]}
],
"mark": {"type": "point", "filled": true, "size": 13, "opacity": 1, "strokeWidth": 0},
"encoding": {
"xOffset": {"field": "slot", "type": "ordinal", "scale": {"domain": [12, 10, 8, 6, 4, 2, 1, 3, 5, 7, 9, 11, 13], "paddingInner": 0, "paddingOuter": 0}},
"y": {"field": "lifetime", "type": "quantitative", "title": "Lifetime / ps", "scale": {"domain": [1500, 3500], "nice": false, "zero": false}, "axis": {"values": [1500, 2000, 2500, 3000, 3500], "format": "d", "title": "Lifetime / ps", "offset": -72, "labelFontSize": 16, "titleFontSize": 15, "titlePadding": 6, "labelPadding": 3}},
"color": {"field": "group", "type": "nominal", "legend": null, "scale": {"domain": ["myr(-)Gag-CFP", "myr(-)Gag-CFP + myr(-)Gag-YFP", "Gag-CFP + myr(-)Gag-YFP", "Gag-CFP (2)", "Gag-CFP + Gag-YFP (2)"], "range": ["#8c8c8c", "#4f9d55", "#e8d44a", "#45458f", "#c41e24"]}},
"shape": {"field": "group", "type": "nominal", "legend": null, "scale": {"domain": ["myr(-)Gag-CFP", "myr(-)Gag-CFP + myr(-)Gag-YFP", "Gag-CFP + myr(-)Gag-YFP", "Gag-CFP (2)", "Gag-CFP + Gag-YFP (2)"], "range": ["triangle-up", "diamond", "triangle-down", "circle", "square"]}}
}},
{"data": {"name": "summary"},
"mark": {"type": "rule", "strokeWidth": 2},
"encoding": {
"y": {"field": "lo", "type": "quantitative", "title": "Lifetime / ps", "scale": {"domain": [1500, 3500], "nice": false, "zero": false}},
"y2": {"field": "hi"},
"color": {"field": "group", "type": "nominal", "legend": null, "scale": {"domain": ["myr(-)Gag-CFP", "myr(-)Gag-CFP + myr(-)Gag-YFP", "Gag-CFP + myr(-)Gag-YFP", "Gag-CFP (2)", "Gag-CFP + Gag-YFP (2)"], "range": ["#8c8c8c", "#4f9d55", "#e8d44a", "#45458f", "#c41e24"]}}
}},
{"data": {"name": "summary"},
"mark": {"type": "tick", "orient": "horizontal", "size": 28, "thickness": 2},
"encoding": {
"y": {"field": "lo", "type": "quantitative", "title": "Lifetime / ps", "scale": {"domain": [1500, 3500], "nice": false, "zero": false}},
"color": {"field": "group", "type": "nominal", "legend": null, "scale": {"domain": ["myr(-)Gag-CFP", "myr(-)Gag-CFP + myr(-)Gag-YFP", "Gag-CFP + myr(-)Gag-YFP", "Gag-CFP (2)", "Gag-CFP + Gag-YFP (2)"], "range": ["#8c8c8c", "#4f9d55", "#e8d44a", "#45458f", "#c41e24"]}}
}},
{"data": {"name": "summary"},
"mark": {"type": "tick", "orient": "horizontal", "size": 28, "thickness": 2},
"encoding": {
"y": {"field": "hi", "type": "quantitative", "title": "Lifetime / ps", "scale": {"domain": [1500, 3500], "nice": false, "zero": false}},
"color": {"field": "group", "type": "nominal", "legend": null, "scale": {"domain": ["myr(-)Gag-CFP", "myr(-)Gag-CFP + myr(-)Gag-YFP", "Gag-CFP + myr(-)Gag-YFP", "Gag-CFP (2)", "Gag-CFP + Gag-YFP (2)"], "range": ["#8c8c8c", "#4f9d55", "#e8d44a", "#45458f", "#c41e24"]}}
}},
{"data": {"name": "summary"},
"mark": {"type": "tick", "orient": "horizontal", "size": 52, "thickness": 2, "color": "black"},
"encoding": {
"y": {"field": "mean", "type": "quantitative", "title": "Lifetime / ps", "scale": {"domain": [1500, 3500], "nice": false, "zero": false}}
}},
{"data": {"name": "summary"},
"mark": {"type": "text", "text": "N", "align": "right", "dx": 7, "font": "Lato", "fontSize": 17, "fontStyle": "italic", "baseline": "middle", "color": "black"},
"encoding": {
"y": {"datum": 3773, "type": "quantitative", "title": "Lifetime / ps", "scale": {"domain": [1500, 3500], "nice": false, "zero": false}}
}},
{"data": {"name": "summary"},
"transform": [{"calculate": "'=' + datum.N", "as": "nText"}],
"mark": {"type": "text", "align": "left", "dx": 7, "font": "Lato", "fontSize": 17, "baseline": "middle", "color": "black"},
"encoding": {
"text": {"field": "nText"},
"y": {"datum": 3773, "type": "quantitative", "title": "Lifetime / ps", "scale": {"domain": [1500, 3500], "nice": false, "zero": false}}
}},
{"data": {"name": "summary"},
"transform": [{"calculate": "datum.mean + 'ps'", "as": "psText"}],
"mark": {"type": "text", "align": "center", "dx": 15, "font": "Lato", "fontSize": 17, "baseline": "middle", "color": "black"},
"encoding": {
"text": {"field": "psText"},
"y": {"datum": 3602, "type": "quantitative", "title": "Lifetime / ps", "scale": {"domain": [1500, 3500], "nice": false, "zero": false}}
}},
{"data": {"name": "brackets"},
"mark": {"type": "rule", "strokeWidth": 1.5, "color": "#222"},
"encoding": {
"x2": {"field": "b"},
"y": {"field": "y", "type": "quantitative", "title": "Lifetime / ps", "scale": {"domain": [1500, 3500], "nice": false, "zero": false}}
}},
{"data": {"name": "brackets"},
"mark": {"type": "rule", "strokeWidth": 1.5, "color": "#222"},
"encoding": {
"y": {"field": "ya", "type": "quantitative", "title": "Lifetime / ps", "scale": {"domain": [1500, 3500], "nice": false, "zero": false}},
"y2": {"field": "y"}
}},
{"data": {"name": "brackets"},
"mark": {"type": "rule", "strokeWidth": 1.5, "color": "#222"},
"encoding": {
"x": {"field": "b", "type": "nominal", "title": null,
"scale": {"domain": ["myr(-)Gag-CFP", "myr(-)Gag-CFP + myr(-)Gag-YFP", "Gag-CFP + myr(-)Gag-YFP", "Gag-CFP (2)", "Gag-CFP + Gag-YFP (2)"], "range": [72, 456], "paddingInner": 0.35, "paddingOuter": 0.175}},
"y": {"field": "yb", "type": "quantitative", "title": "Lifetime / ps", "scale": {"domain": [1500, 3500], "nice": false, "zero": false}},
"y2": {"field": "y"}
}},
{"data": {"name": "brackets"},
"mark": {"type": "text", "dx": 38, "dy": -3, "baseline": "alphabetic", "align": "center", "font": "Liberation Sans", "fontSize": 16, "color": "black"},
"encoding": {
"text": {"field": "label"},
"y": {"field": "y", "type": "quantitative", "title": "Lifetime / ps", "scale": {"domain": [1500, 3500], "nice": false, "zero": false}}
}}
]
}
],
"resolve": {"scale": {"color": "independent", "fill": "independent", "shape": "independent", "x": "independent", "y": "independent"}, "legend": {"color": "independent", "fill": "independent"}},
"config": {
"view": {"stroke": null},
"axis": {"grid": false, "domainColor": "black", "domainWidth": 3, "tickColor": "black", "tickWidth": 2.5, "tickSize": 6, "labelColor": "black", "labelFont": "Liberation Sans", "titleFont": "Liberation Sans", "titleFontWeight": "normal", "titleColor": "black"}
}
}
